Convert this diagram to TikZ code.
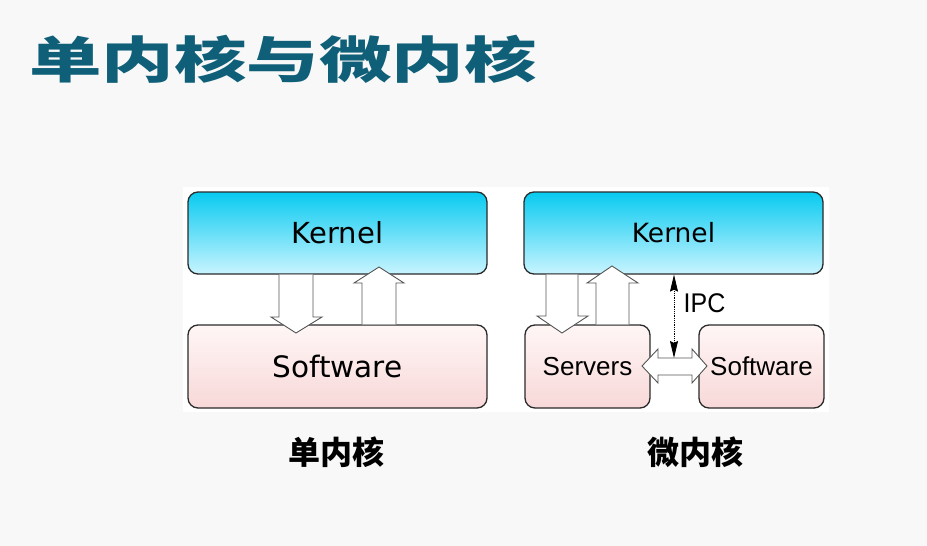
\documentclass[tikz,border=0pt]{standalone}
\usepackage{fontspec}
\usetikzlibrary{arrows.meta}
\newfontfamily\djv{DejaVu Sans}
\newfontfamily\lib{Liberation Sans}
\newfontfamily\cjk{Noto Sans CJK SC}
\newfontfamily\cjktitle[FakeStretch=1.45]{Noto Sans CJK SC}
\definecolor{bgc}{HTML}{F8F8F8}
\definecolor{kt}{HTML}{08CAF0}
\definecolor{kb}{HTML}{C8F4FF}
\definecolor{st}{HTML}{FFF6F6}
\definecolor{sb}{HTML}{F8D8D8}
\definecolor{titlec}{HTML}{0F5F78}
\definecolor{edge}{HTML}{2A2A2A}
\definecolor{arr}{HTML}{555555}
\tikzset{
  kbox/.style={draw=edge, line width=1.3pt, rounded corners=10pt, top color=kt, bottom color=kb, inner sep=0pt},
  sbox/.style={draw=edge, line width=1.3pt, rounded corners=10pt, top color=st, bottom color=sb, inner sep=0pt},
  blockarrow/.style={draw=arr, line width=0.9pt, fill=white, line join=miter},
  ipc/.style={densely dotted, line width=0.8pt, {Stealth[length=17pt,width=8pt,inset=2pt]}-{Stealth[length=17pt,width=8pt,inset=2pt]}},
}
\begin{document}
\begin{tikzpicture}[x=1pt,y=-1pt]
\useasboundingbox (0,0) rectangle (927,546);
\fill[bgc] (0,0) rectangle (927,546);
\fill[white] (183,187) rectangle (829,412);
% title
\node[anchor=west, inner sep=0pt, text=titlec, font=\cjktitle\bfseries\fontsize{50}{50}\selectfont] (title) at (29,59) {单内核与微内核};
% left diagram
\node[kbox, minimum width=299pt, minimum height=82pt, font=\djv\fontsize{29}{29}\selectfont] (k1) at (337.5,233) {Kernel};
\node[sbox, minimum width=299pt, minimum height=83pt, font=\djv\fontsize{29.5}{29.5}\selectfont] (s1) at (337.5,366.5) {Software};
% left down arrow
\draw[blockarrow] (279,0 |- k1.south) -- (279,317) -- (271,317) -- (296,333) -- (322,317) -- (313,317) -- (313,0 |- k1.south);
% left up arrow
\draw[blockarrow] (362,0 |- s1.north) -- (362,283) -- (354,283) -- (379,267) -- (404,283) -- (396,283) -- (396,0 |- s1.north);
% right diagram
\node[kbox, minimum width=299pt, minimum height=82pt, font=\djv\fontsize{26.5}{26.5}\selectfont] (k2) at (673.5,233) {Kernel};
\node[sbox, minimum width=125pt, minimum height=83pt, font=\lib\fontsize{26}{26}\selectfont] (srv) at (587.5,366.5) {Servers};
\node[sbox, minimum width=125pt, minimum height=83pt, font=\lib\fontsize{26}{26}\selectfont] (s2) at (761.5,366.5) {Software};
% right down arrow
\draw[blockarrow] (546,0 |- k2.south) -- (546,316) -- (537,316) -- (562,333) -- (588,316) -- (578,316) -- (578,0 |- k2.south);
% right up arrow
\draw[blockarrow] (596,0 |- srv.north) -- (596,283) -- (587,283) -- (612,266) -- (638,283) -- (629,283) -- (629,0 |- srv.north);
% horizontal double arrow
\draw[blockarrow] (642,366) -- (658,349) -- (658,358) -- (692,358) -- (692,349) -- (707,366) -- (692,383) -- (692,375) -- (658,375) -- (658,383) -- cycle;
\coordinate (ipcbot) at (674,358);
\draw[ipc] (674,0 |- k2.south) -- (ipcbot);
\node[font=\lib\fontsize{25}{25}\selectfont, inner sep=0pt, yscale=1.08] (ipclabel) at (704.5,303) {IPC};
% captions
\node[font=\cjk\bfseries\fontsize{32}{32}\selectfont, inner sep=0pt] (cap1) at (336.5,452) {单内核};
\node[font=\cjk\bfseries\fontsize{32}{32}\selectfont, inner sep=0pt] (cap2) at (695,452) {微内核};
\end{tikzpicture}
\end{document}
